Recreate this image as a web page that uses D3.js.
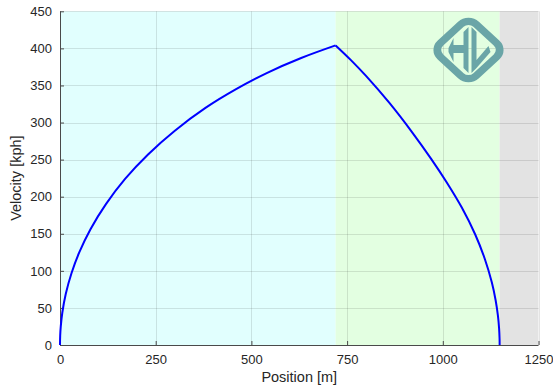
<!DOCTYPE html>
<html>
<head>
<meta charset="utf-8">
<script src="https://cdn.jsdelivr.net/npm/d3@7"></script>
<style>
  body { margin: 0; background: #fff; }
  svg text { font-family: "Liberation Sans", Arial, sans-serif; fill: #262626; }
</style>
</head>
<body>
<div id="chart"></div>
<script>
// Acceleration phase (position m, velocity kph)
const accelPos = [0, 0.5, 2, 6, 15, 30, 50, 80, 120, 170, 230, 300, 380, 460, 540, 630, 720];
const accelVel = [0, 12.6, 25, 43.5, 68.7, 96.7, 124.5, 156.5, 190, 224, 257, 289, 319.7, 345, 366.7, 387, 404];

// Braking phase
const brakePos = [720, 760, 800, 860, 920, 970, 1010, 1050, 1085, 1110, 1128, 1138, 1144, 1147, 1148.3, 1148.5];
const brakeVel = [404, 384.2, 362.5, 326.7, 286.8, 250.7, 219.5, 185, 148.7, 115.7, 84.5, 60.4, 39.6, 22.8, 8.3, 0];

// Phase shading: boundaries along the track
const phaseBounds = [0, 720, 1148.5, 1250];
const phaseColors = ['#e1fffe', '#e3ffe1', '#e3e3e3'];

const xTicks = [0, 250, 500, 750, 1000, 1250];
const yTicks = [0, 50, 100, 150, 200, 250, 300, 350, 400, 450];

const width = 553, height = 387;
const margin = { top: 11.3, right: 14.5, bottom: 42, left: 60 };

const svg = d3.select('#chart').append('svg')
  .attr('width', width)
  .attr('height', height);

const x = d3.scaleLinear().domain([0, 1250]).range([margin.left, width - margin.right]);
const y = d3.scaleLinear().domain([0, 450]).range([height - margin.bottom, margin.top]);

// --- Phase backgrounds ---
phaseColors.forEach((c, i) => {
  svg.append('rect')
    .attr('x', x(phaseBounds[i]))
    .attr('y', y(450))
    .attr('width', x(phaseBounds[i + 1]) - x(phaseBounds[i]))
    .attr('height', y(0) - y(450))
    .attr('fill', c);
});

// --- Grid ---
const grid = svg.append('g').attr('stroke', '#262626').attr('stroke-opacity', 0.13).attr('stroke-width', 1);
xTicks.slice(1).forEach(t => {
  grid.append('line')
    .attr('x1', Math.round(x(t)) + 0.5).attr('x2', Math.round(x(t)) + 0.5)
    .attr('y1', y(0)).attr('y2', y(450));
});
yTicks.slice(1).forEach(t => {
  grid.append('line')
    .attr('x1', x(0)).attr('x2', x(1250))
    .attr('y1', Math.round(y(t)) + 0.5).attr('y2', Math.round(y(t)) + 0.5);
});

// --- Logo (rounded diamond with HL) ---
const logo = svg.append('g')
  .attr('transform', 'translate(468.5,50)')
  .attr('fill', '#6aa5a7');
logo.append('rect')
  .attr('x', -21).attr('y', -21).attr('width', 42).attr('height', 42)
  .attr('rx', 9)
  .attr('fill', 'none')
  .attr('stroke', '#6aa5a7')
  .attr('stroke-width', 6.5)
  .attr('transform', 'scale(1.2,1.1) rotate(45)');
// H
logo.append('path').attr('d', 'M-20,-2 L-15,-12 L-15,-5 L-5,-5 L-5,-18 L0,-23 L0,23 L-5,18 L-5,3 L-15,3 L-15,12 L-20,2 Z');
// L
logo.append('path').attr('d', 'M3,-23 L8,-18 L8,10 L20,-4 L22,2 L8,18 L3,23 Z');

// --- Axes ---
const xAxis = svg.append('g')
  .attr('transform', `translate(0,${y(0)})`)
  .call(d3.axisBottom(x).tickValues(xTicks).tickFormat(d3.format('d')).tickSize(-4).tickPadding(10));
const yAxis = svg.append('g')
  .attr('transform', `translate(${x(0)},0)`)
  .call(d3.axisLeft(y).tickValues(yTicks).tickFormat(d3.format('d')).tickSize(-4).tickPadding(8));
[xAxis, yAxis].forEach(a => {
  a.select('.domain').attr('stroke', '#4a4a4a').attr('stroke-width', 1);
  a.selectAll('.tick line').attr('stroke', '#4a4a4a');
  a.selectAll('.tick text')
    .attr('font-size', 13)
    .attr('font-family', '"Liberation Sans", Arial, sans-serif')
    .attr('fill', '#262626');
});
// remove outer tick stubs from domain path
xAxis.select('.domain').attr('d', `M${x(0)},0.5H${x(1250)}`);
yAxis.select('.domain').attr('d', `M0.5,${y(0)}V${y(450)}`);

// --- Velocity profile ---
const line = d3.line()
  .x(d => x(d[0]))
  .y(d => y(d[1]))
  .curve(d3.curveCatmullRom.alpha(0.5));

[[accelPos, accelVel], [brakePos, brakeVel]].forEach(([pos, vel]) => {
  svg.append('path')
    .datum(pos.map((p, i) => [p, vel[i]]))
    .attr('d', line)
    .attr('fill', 'none')
    .attr('stroke', '#0000ff')
    .attr('stroke-width', 2)
    .attr('stroke-linejoin', 'round');
});

// --- Labels ---
svg.append('text')
  .attr('x', (x(0) + x(1250)) / 2)
  .attr('y', 382)
  .attr('text-anchor', 'middle')
  .attr('font-size', 14.5)
  .text('Position [m]');

svg.append('text')
  .attr('transform', `translate(21,${(y(0) + y(450)) / 2}) rotate(-90)`)
  .attr('text-anchor', 'middle')
  .attr('font-size', 14.5)
  .text('Velocity [kph]');
</script>
</body>
</html>
